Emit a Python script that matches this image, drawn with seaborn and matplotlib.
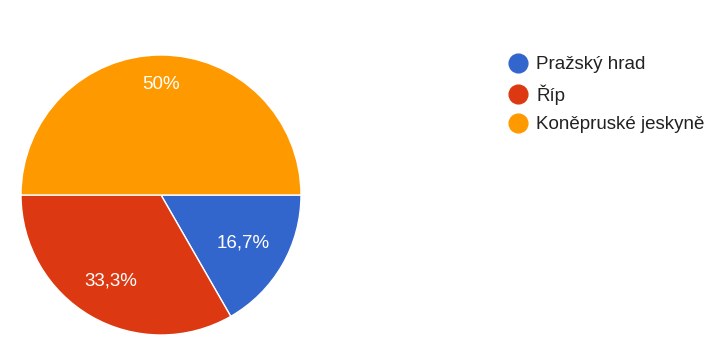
import matplotlib
matplotlib.use("Agg")
import matplotlib.pyplot as plt
from matplotlib.lines import Line2D
import seaborn as sns
import numpy as np

categories = ["Pražský hrad", "Říp", "Koněpruské jeskyně"]
values = [16.7, 33.3, 50.0]
pct_labels = ["16,7%", "33,3%", "50%"]
colors = ["#3366cc", "#dc3912", "#ff9900"]
label_dist = [0.68, 0.71, 0.79]

sns.set_theme(style="white")
plt.rcParams['font.family'] = ['Liberation Sans', 'DejaVu Sans']

W, H = 723, 353
fig = plt.figure(figsize=(W / 100, H / 100), dpi=100)
fig.patch.set_facecolor("white")
cx, cy, r = 161, 195, 140
ax = fig.add_axes([(cx - r) / W, (H - cy - r) / H, 2 * r / W, 2 * r / H])
wedges, _ = ax.pie(values, colors=colors, startangle=0, counterclock=False,
                   radius=1.0, wedgeprops=dict(edgecolor="white", linewidth=1.0))
for w, lab, d in zip(wedges, pct_labels, label_dist):
    mid = np.deg2rad((w.theta1 + w.theta2) / 2)
    ax.text(d * np.cos(mid), d * np.sin(mid), lab, color="white", fontsize=13.5,
            ha="center", va="center")
ax.set_xlim(-1, 1)
ax.set_ylim(-1, 1)
ax.set_aspect("equal")
ax.axis("off")

handles = [Line2D([0], [0], marker="o", linestyle="", markersize=13.5,
                  markerfacecolor=c, markeredgecolor=c) for c in colors]
leg = fig.legend(handles, categories, loc="upper left",
                 bbox_to_anchor=(510 / W, 1 - 56 / H), frameon=False,
                 fontsize=13.5, handlelength=0.9, handletextpad=0.5,
                 labelspacing=0.6, borderpad=0, borderaxespad=0)
for t in leg.get_texts():
    t.set_color("#222222")

fig.savefig("out.png", dpi=100, facecolor="white")
